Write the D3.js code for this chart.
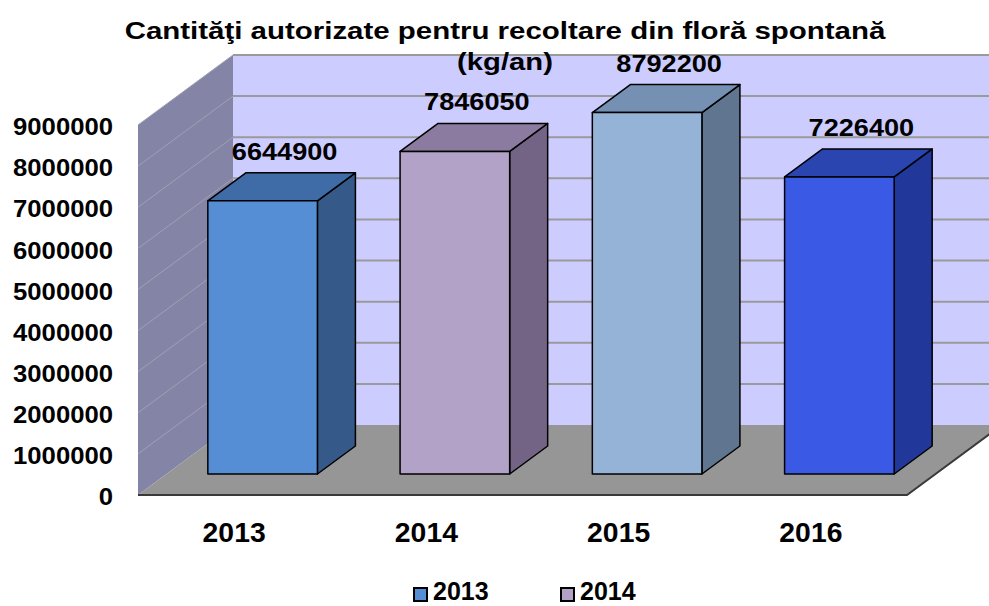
<!DOCTYPE html>
<html>
<head>
<meta charset="utf-8">
<script src="https://cdn.jsdelivr.net/npm/d3@7"></script>
<style>
  html, body { margin: 0; padding: 0; background: #fff; }
  svg { display: block; }
  text { font-family: "Liberation Sans", Arial, sans-serif; font-weight: bold; fill: #000; }
</style>
</head>
<body>
<svg id="chart" width="989" height="606"></svg>
<script>
// ---- data ----
const categories = ["2013", "2014", "2015", "2016"];
const values = [6644900, 7846050, 8792200, 7226400];
const valueLabels = ["6644900", "7846050", "8792200", "7226400"];
const yTicks = [0, 1000000, 2000000, 3000000, 4000000, 5000000, 6000000, 7000000, 8000000, 9000000];
const legendItems = ["2013", "2014"];
const titleLines = ["Cantităţi autorizate pentru recoltare din floră spontană", "(kg/an)"];

// ---- styles ----
const frontColors = ["#558ED5", "#B3A2C7", "#95B3D7", "#3A5AE6"];
const topColors   = ["#3F6CA6", "#8C7BA0", "#7590B2", "#2A44B0"];
const sideColors  = ["#355A8A", "#736485", "#5F7590", "#22379A"];

const svg = d3.select("#chart");

function stretch(sel, sx) {
  sel.each(function () {
    const len = this.getComputedTextLength();
    d3.select(this).attr("textLength", len * sx).attr("lengthAdjust", "spacingAndGlyphs");
  });
}

const x0 = 138, x1 = 907;
const DX = 95, DY = 70;
const y = d3.scaleLinear().domain([0, 9000000]).range([495, 125]);
const x = d3.scaleBand().domain(categories).range([x0, x1])
  .paddingInner(0.43).paddingOuter(0.215);

const P = (px, v, d) => [px + d * DX, y(v) - d * DY];
const poly = pts => pts.map(p => p.join(",")).join(" ");
const yMax = 9000000;

svg.append("polygon")
  .attr("points", poly([P(x0, 0, 1), P(x1 + 200, 0, 1), P(x1 + 200, yMax, 1), P(x0, yMax, 1)]))
  .attr("fill", "#CCCCFF");
svg.append("polygon")
  .attr("points", poly([P(x0, 0, 0), P(x0, 0, 1), P(x0, yMax, 1), P(x0, yMax, 0)]))
  .attr("fill", "#8484A6");

yTicks.filter(v => v > 0).forEach(v => {
  svg.append("line")
    .attr("x1", P(x0, v, 1)[0]).attr("y1", P(x0, v, 1)[1])
    .attr("x2", P(x1 + 200, v, 1)[0]).attr("y2", P(x1 + 200, v, 1)[1])
    .attr("stroke", "#9a9a9a").attr("stroke-width", 2);
  svg.append("line")
    .attr("x1", P(x0, v, 0)[0]).attr("y1", P(x0, v, 0)[1])
    .attr("x2", P(x0, v, 1)[0]).attr("y2", P(x0, v, 1)[1])
    .attr("stroke", "#a0a0b4").attr("stroke-width", 1);
});

svg.append("polygon")
  .attr("points", poly([P(x0, 0, 0), P(x1, 0, 0), P(x1, 0, 1), P(x0, 0, 1)]))
  .attr("fill", "#969696");
svg.append("polyline")
  .attr("points", poly([P(x0, 0, 0), P(x1, 0, 0), P(x1, 0, 1)]))
  .attr("fill", "none").attr("stroke", "#3a3a3a").attr("stroke-width", 2);

const dA = 0.3, dB = 0.7;
categories.forEach((c, i) => {
  const v = values[i];
  const xl = x(c), xr = x(c) + x.bandwidth();
  const g = svg.append("g").attr("stroke", "#000").attr("stroke-width", 1.5).attr("stroke-linejoin", "round");
  g.append("polygon").attr("fill", sideColors[i])
    .attr("points", poly([P(xr, 0, dA), P(xr, 0, dB), P(xr, v, dB), P(xr, v, dA)]));
  g.append("polygon").attr("fill", topColors[i])
    .attr("points", poly([P(xl, v, dA), P(xr, v, dA), P(xr, v, dB), P(xl, v, dB)]));
  g.append("polygon").attr("fill", frontColors[i])
    .attr("points", poly([P(xl, 0, dA), P(xr, 0, dA), P(xr, v, dA), P(xl, v, dA)]));
  const c0 = P(xl + x.bandwidth() / 2, v, dB);
  const t = svg.append("text")
    .attr("x", c0[0] - 16).attr("y", c0[1] - 13)
    .attr("text-anchor", "middle").attr("font-size", 24)
    .text(valueLabels[i]);
  stretch(t, 1.13);
});

const yAxis = d3.axisLeft(y).tickValues(yTicks).tickSize(0).tickPadding(25).tickFormat(d => d3.format("d")(d));
const ya = svg.append("g").attr("transform", `translate(${x0},2)`).call(yAxis);
ya.select(".domain").remove();
ya.selectAll("text").attr("font-size", 24).attr("font-family", null).attr("fill", "#000");
stretch(ya.selectAll("text"), 1.07);

const xAxis = d3.axisBottom(x).tickSize(0).tickPadding(28);
const xa = svg.append("g").attr("transform", `translate(0,${y(0)})`).call(xAxis);
xa.select(".domain").remove();
xa.selectAll("text").attr("font-size", 27).attr("font-family", null).attr("fill", "#000");
stretch(xa.selectAll("text"), 1.05);

const t1 = svg.append("text").attr("x", 505).attr("y", 39).attr("text-anchor", "middle")
  .attr("font-size", 23).text(titleLines[0]);
stretch(t1, 1.28);
const t2 = svg.append("text").attr("x", 505).attr("y", 70).attr("text-anchor", "middle")
  .attr("font-size", 23).text(titleLines[1]);
stretch(t2, 1.27);

const legX = [413, 560];
legendItems.forEach((l, i) => {
  svg.append("rect").attr("x", legX[i] + 1).attr("y", 588).attr("width", 13).attr("height", 13)
    .attr("fill", frontColors[i]).attr("stroke", "#000").attr("stroke-width", 2);
  svg.append("text").attr("x", legX[i] + 20).attr("y", 600).attr("font-size", 25).text(l);
});
</script>
</body>
</html>
